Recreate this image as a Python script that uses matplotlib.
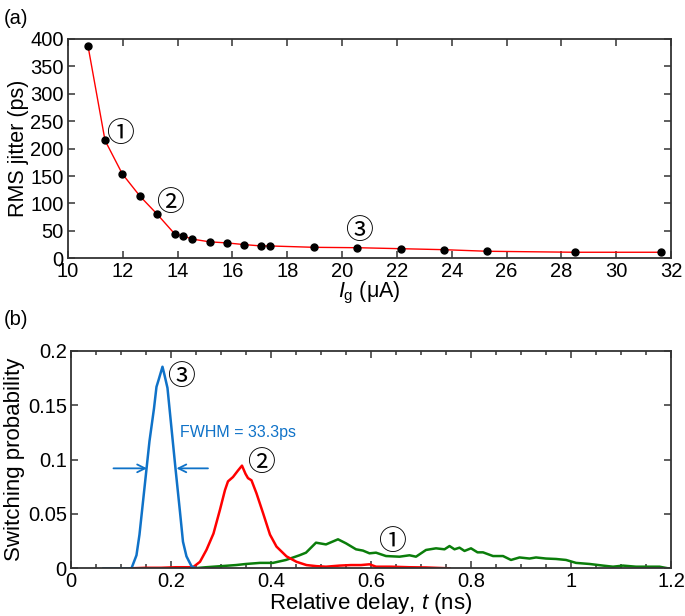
import matplotlib
matplotlib.use("Agg")
import matplotlib.pyplot as plt
from matplotlib.ticker import MultipleLocator

plt.rcParams['font.family'] = ['Liberation Sans', 'DejaVu Sans', 'Noto Sans CJK JP']
plt.rcParams['mathtext.fontset'] = 'custom'
plt.rcParams['mathtext.rm'] = 'Liberation Sans'
plt.rcParams['mathtext.it'] = 'Liberation Sans:italic'

# (a) RMS jitter vs gate current
ig = [10.73, 11.35, 11.98, 12.63, 13.26, 13.90, 14.20, 14.53, 15.17, 15.81,
      16.42, 17.05, 17.37, 18.98, 20.56, 22.14, 23.72, 25.30, 28.48, 31.64]
jitter = [387, 215, 154, 113, 80, 44, 41, 35, 30, 28,
          25, 22.5, 22.5, 20, 19.3, 17.5, 15.7, 12.8, 11, 11]

# (b) switching probability histograms
t3 = [0.065, 0.09, 0.11, 0.121, 0.131, 0.137, 0.147, 0.157, 0.166, 0.171, 0.175,
      0.183, 0.187, 0.193, 0.201, 0.209, 0.218, 0.224, 0.231, 0.241, 0.25, 0.258]
p3 = [0.0, 0.0, 0.0, 0.0, 0.012, 0.031, 0.074, 0.117, 0.147, 0.167, 0.173,
      0.1855, 0.178, 0.166, 0.129, 0.092, 0.052, 0.0245, 0.011, 0.002, 0.0, 0.0]

t2 = [0.118, 0.15, 0.18, 0.21, 0.23, 0.244, 0.258, 0.271, 0.285, 0.298, 0.308,
      0.314, 0.324, 0.334, 0.342, 0.349, 0.354, 0.361, 0.371, 0.384, 0.398, 0.411,
      0.431, 0.451, 0.471, 0.491, 0.51, 0.537, 0.56, 0.58, 0.597, 0.61, 0.64,
      0.677, 0.71, 0.757]
p2 = [0.0, 0.0005, 0.0005, 0.001, 0.001, 0.001, 0.006, 0.017, 0.032, 0.054, 0.072,
      0.080, 0.084, 0.090, 0.0945, 0.087, 0.083, 0.081, 0.069, 0.051, 0.031, 0.020,
      0.011, 0.006, 0.003, 0.002, 0.0015, 0.0025, 0.003, 0.003, 0.0037, 0.0015, 0.0015,
      0.001, 0.0008, 0.0]

t1 = [0.245, 0.27, 0.3, 0.33, 0.35, 0.378, 0.404, 0.43, 0.457, 0.47, 0.49, 0.51,
      0.534, 0.55, 0.57, 0.584, 0.597, 0.61, 0.63, 0.657, 0.677, 0.69, 0.71, 0.73,
      0.747, 0.757, 0.767, 0.777, 0.787, 0.8, 0.813, 0.824, 0.844, 0.864, 0.88,
      0.897, 0.917, 0.93, 0.95, 0.97, 0.99, 1.01, 1.037, 1.064, 1.084, 1.104,
      1.13, 1.157, 1.177, 1.194, 1.2]
p1 = [0.0, 0.001, 0.002, 0.003, 0.004, 0.005, 0.005, 0.0077, 0.012, 0.0144, 0.0236, 0.022,
      0.0267, 0.023, 0.0175, 0.0163, 0.0138, 0.0144, 0.0113, 0.0107, 0.012, 0.0107, 0.0169, 0.0184,
      0.0175, 0.0205, 0.0175, 0.019, 0.016, 0.0184, 0.0147, 0.0147, 0.0113, 0.0113, 0.0077,
      0.010, 0.009, 0.010, 0.009, 0.0086, 0.0077, 0.005, 0.004, 0.0025, 0.0015, 0.0025,
      0.0015, 0.0015, 0.0015, 0.0, 0.0]

blue = '#0f72c8'
red = '#ff0000'
green = '#0a7d0a'
frame = '#333333'
circ = ['Noto Sans CJK JP', 'DejaVu Sans']

fig = plt.figure(figsize=(6.85, 6.16), dpi=100)
axa = fig.add_axes([0.0993, 0.5807, 0.8803, 0.3560])
axb = fig.add_axes([0.1036, 0.0774, 0.8760, 0.3528])

for ax in (axa, axb):
    for s in ax.spines.values():
        s.set_linewidth(1.3)
        s.set_color(frame)
    ax.tick_params(which='both', direction='in', top=True, right=True,
                   labelsize=14.5, color=frame, width=1.1)
    ax.tick_params(which='major', length=5)
    ax.tick_params(which='minor', length=3)
    ax.tick_params(axis='x', pad=3)
    ax.tick_params(axis='y', pad=3)

# panel (a)
axa.plot(ig, jitter, '-', color=red, lw=1.0, zorder=2)
axa.plot(ig, jitter, 'o', color='black', ms=5, zorder=3)
axa.set_xlim(10, 32)
axa.set_ylim(0, 400)
axa.xaxis.set_major_locator(MultipleLocator(2))
axa.yaxis.set_major_locator(MultipleLocator(50))
axa.set_ylabel('RMS jitter (ps)', fontsize=15.5, labelpad=1)
axa.set_xlabel(r'$I_\mathrm{g}$ ($\mathrm{\mu}$A)', fontsize=15.5, labelpad=-1)
axa.text(11.9, 227, '①', fontsize=20, family=circ, ha='center', va='center')
axa.text(13.72, 100, '②', fontsize=20, family=circ, ha='center', va='center')
axa.text(20.6, 50, '③', fontsize=20, family=circ, ha='center', va='center')

# panel (b)
axb.plot(t1, p1, color=green, lw=1.8)
axb.plot(t2, p2, color=red, lw=1.8)
axb.plot(t3, p3, color=blue, lw=1.8)
axb.set_xlim(0, 1.2)
axb.set_ylim(0, 0.2)
axb.xaxis.set_minor_locator(MultipleLocator(0.05))
axb.set_xticks([0, 0.2, 0.4, 0.6, 0.8, 1.0, 1.2])
axb.set_xticklabels(['0', '0.2', '0.4', '0.6', '0.8', '1', '1.2'])
axb.set_yticks([0, 0.05, 0.1, 0.15, 0.2])
axb.set_yticklabels(['0', '0.05', '0.1', '0.15', '0.2'])
axb.set_ylabel('Switching probability', fontsize=16, labelpad=2)
axb.set_xlabel(r'Relative delay, $t$ (ns)', fontsize=16, labelpad=-0.5)
axb.text(0.219, 0.176, '③', fontsize=20, family=circ, ha='center', va='center')
axb.text(0.38, 0.0966, '②', fontsize=20, family=circ, ha='center', va='center')
axb.text(0.641, 0.0245, '①', fontsize=20, family=circ, ha='center', va='center')
axb.text(0.218, 0.125, 'FWHM = 33.3ps', fontsize=11.5, color=blue, ha='left', va='center')
axb.annotate('', xy=(0.152, 0.092), xytext=(0.085, 0.092),
             arrowprops=dict(arrowstyle='->', color=blue, lw=1.3, mutation_scale=14,
                             shrinkA=0, shrinkB=0))
axb.annotate('', xy=(0.211, 0.092), xytext=(0.274, 0.092),
             arrowprops=dict(arrowstyle='->', color=blue, lw=1.3, mutation_scale=14,
                             shrinkA=0, shrinkB=0))

fig.text(0.005, 0.985, '(a)', fontsize=14.5, ha='left', va='top')
fig.text(0.005, 0.497, '(b)', fontsize=14.5, ha='left', va='top')

fig.savefig('out.png', dpi=100)
